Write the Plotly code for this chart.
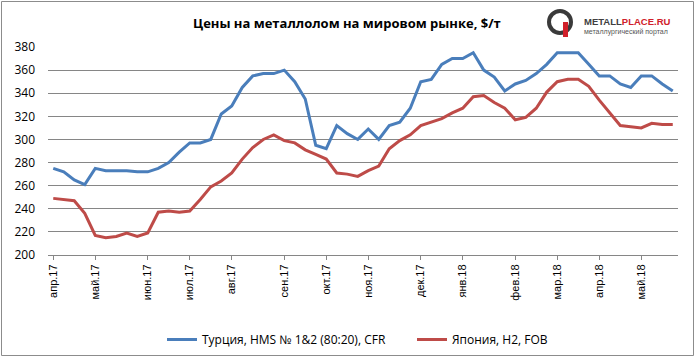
import plotly.graph_objects as go

turkey = [275, 272, 265, 261, 275, 273, 273, 273, 272, 272,
          275, 280, 289, 297, 297, 300, 322, 329, 345, 355,
          357, 357, 360, 350, 335, 295, 292, 312, 305, 300,
          309, 300, 312, 315, 327, 350, 352, 365, 370, 370,
          375, 360, 354, 342, 348, 351, 357, 365, 375, 375,
          375, 365, 355, 355, 348, 345, 355, 355, 348, 342]

japan = [249, 248, 247, 236, 217, 215, 216, 219, 216, 219,
         237, 238, 237, 238, 248, 259, 264, 271, 283, 293,
         300, 304, 299, 297, 291, 287, 283, 271, 270, 268,
         273, 277, 292, 299, 304, 312, 315, 318, 323, 327,
         337, 338, 332, 327, 317, 319, 327, 341, 350, 352,
         352, 346, 334, 323, 312, 311, 310, 314, 313, 313]

month_pos = [0, 4, 9, 13, 17, 22, 26, 30, 35, 39, 44, 48, 52, 56]
month_labels = ["апр.17", "май.17", "июн.17", "июл.17", "авг.17", "сен.17", "окт.17",
                "ноя.17", "дек.17", "янв.18", "фев.18", "мар.18", "апр.18", "май.18"]

name_turkey = "Турция, HMS № 1&2 (80:20), CFR"
name_japan = "Япония, H2, FOB"
title_text = "Цены на металлолом на мировом рынке, $/т"

W, H = 695, 357
L, R, T, B = 48, 17, 47, 102
pw, ph = W - L - R, H - T - B

def px_x(p):
    return (p - L) / pw

def px_y(p):
    return (H - B - p) / ph

fig = go.Figure()
fig.add_trace(go.Scatter(x=list(range(len(turkey))), y=turkey, mode="lines", name=name_turkey,
                         line=dict(color="#4A7EBB", width=3)))
fig.add_trace(go.Scatter(x=list(range(len(japan))), y=japan, mode="lines", name=name_japan,
                         line=dict(color="#BE4B48", width=3)))

fig.update_layout(
    width=W, height=H,
    margin=dict(l=L, r=R, t=T, b=B, autoexpand=False),
    paper_bgcolor="white", plot_bgcolor="white",
    font=dict(family="Open Sans, Noto Sans, sans-serif", color="#000000"),
    showlegend=True,
    legend=dict(orientation="h", x=px_x(162), xanchor="left", y=px_y(325), yanchor="top",
                font=dict(family="Open Sans, sans-serif", size=12), itemwidth=30,
                bgcolor="rgba(0,0,0,0)", entrywidthmode="pixels", entrywidth=205),
    annotations=[
        dict(text="<b>" + title_text + "</b>", xref="paper", yref="paper",
             x=px_x(347), y=px_y(23), xanchor="center", yanchor="middle", showarrow=False,
             font=dict(family="Open Sans, sans-serif", size=13, color="#000000")),
        dict(text="<b><span style='color:#404040'>METALL</span><span style='color:#D0202A'>PLACE.RU</span></b>",
             xref="paper", yref="paper", x=px_x(582), y=px_y(22), xanchor="left", yanchor="middle",
             showarrow=False, font=dict(family="Liberation Sans, Arial, sans-serif", size=9.5)),
        dict(text="металлургический портал", xref="paper", yref="paper", x=px_x(582), y=px_y(32),
             xanchor="left", yanchor="middle", showarrow=False,
             font=dict(family="Liberation Sans, Arial, sans-serif", size=7, color="#555555")),
    ],
    shapes=[
        dict(type="rect", xref="paper", yref="paper", x0=px_x(1.5), x1=px_x(693.5),
             y0=px_y(355.5), y1=px_y(1.5), line=dict(color="#8C8C8C", width=1), layer="below"),
        dict(type="circle", xref="paper", yref="paper", x0=px_x(549), x1=px_x(571),
             y0=px_y(33), y1=px_y(11), line=dict(color="#3A3A3A", width=4)),
        dict(type="rect", xref="paper", yref="paper", x0=px_x(563), x1=px_x(568),
             y0=px_y(37), y1=px_y(22), fillcolor="#D0202A", line=dict(width=0)),
    ],
)

fig.update_xaxes(range=[-0.5, len(turkey) - 0.5], tickmode="array", tickvals=month_pos,
                 ticktext=month_labels, tickangle=-90, ticks="outside", ticklen=4,
                 tickcolor="#868686", showgrid=False, showline=True, linecolor="#868686",
                 linewidth=1, zeroline=False,
                 tickfont=dict(family="Liberation Sans, Arial, sans-serif", size=11))
fig.update_yaxes(range=[200, 380], tickmode="linear", tick0=200, dtick=20, showgrid=True,
                 gridcolor="#868686", gridwidth=1, showline=False, zeroline=False, ticks="",
                 ticklabelstandoff=12,
                 tickfont=dict(family="Open Sans, sans-serif", size=12))

fig.write_html("out.html", config={"displayModeBar": False},
               post_script="document.body.style.margin='0px';document.body.style.overflow='hidden';")
